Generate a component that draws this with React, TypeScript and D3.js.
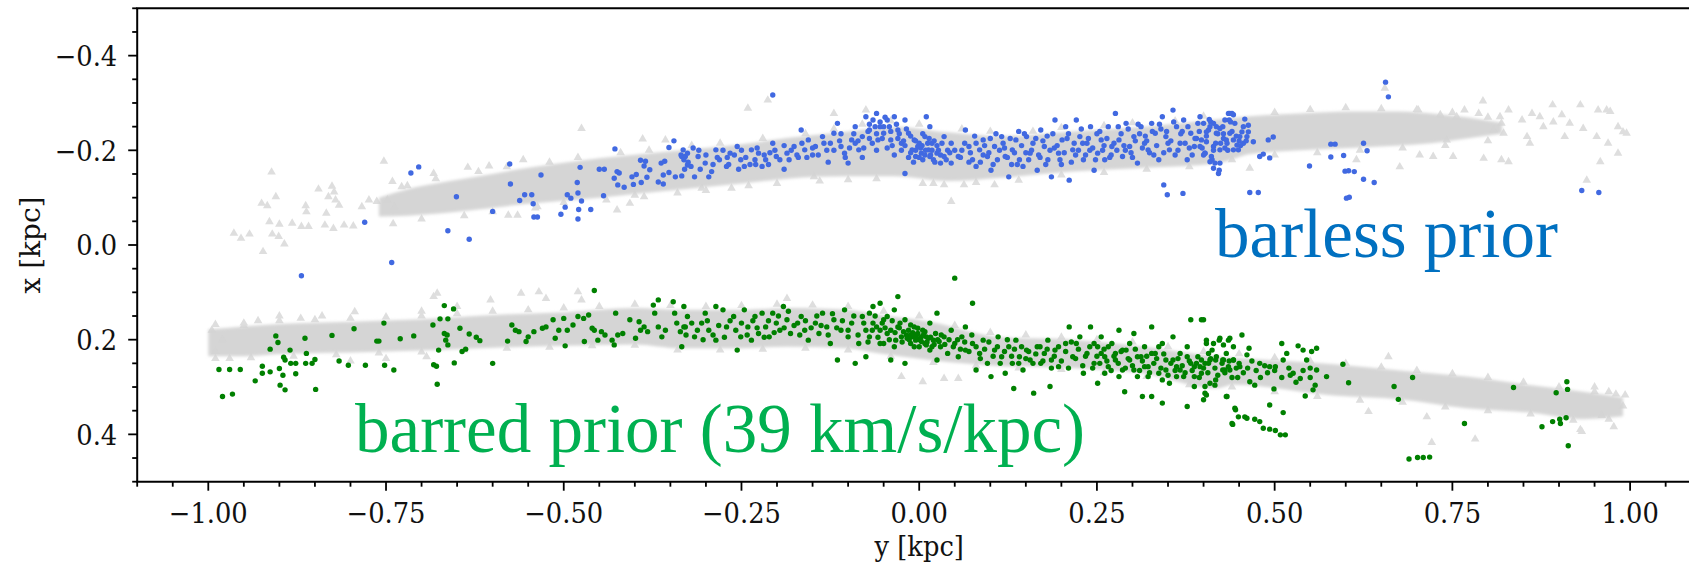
import React from "react";
import * as d3 from "d3";

// ---------- data (y [kpc] horizontal, x [kpc] vertical) ----------
const yTicksMajor = [-1.0, -0.75, -0.5, -0.25, 0.0, 0.25, 0.5, 0.75, 1.0];
const xTicksMajor = [-0.4, -0.2, 0.0, 0.2, 0.4];

// dense gray model bands: sample y, upper edge x, lower edge x
const bandTopY = [-0.76, -0.72, -0.68, -0.64, -0.55, -0.45, -0.35, -0.25, -0.186, -0.1, -0.035, 0.04, 0.115, 0.216, 0.317, 0.418, 0.466, 0.536, 0.606, 0.676, 0.72, 0.77, 0.82];
const bandTopLo = [-0.1, -0.118, -0.13, -0.14, -0.163, -0.183, -0.198, -0.213, -0.226, -0.24, -0.25, -0.238, -0.23, -0.24, -0.25, -0.265, -0.272, -0.278, -0.282, -0.282, -0.278, -0.27, -0.258];
const bandTopHi = [-0.06, -0.062, -0.066, -0.072, -0.087, -0.1, -0.115, -0.13, -0.14, -0.145, -0.145, -0.135, -0.142, -0.155, -0.163, -0.172, -0.192, -0.2, -0.205, -0.21, -0.215, -0.225, -0.235];

const bandBotY = [-1.0, -0.95, -0.9, -0.8, -0.7, -0.6, -0.5, -0.4, -0.337, -0.25, -0.186, -0.1, -0.06, 0.015, 0.116, 0.216, 0.317, 0.417, 0.442, 0.583, 0.676, 0.77, 0.864, 0.934, 0.99];
const bandBotLo = [0.178, 0.172, 0.167, 0.162, 0.157, 0.148, 0.142, 0.133, 0.137, 0.137, 0.133, 0.137, 0.147, 0.162, 0.195, 0.2, 0.215, 0.235, 0.238, 0.252, 0.265, 0.278, 0.297, 0.31, 0.322];
const bandBotHi = [0.235, 0.235, 0.23, 0.227, 0.223, 0.217, 0.213, 0.21, 0.218, 0.218, 0.215, 0.218, 0.228, 0.243, 0.256, 0.26, 0.272, 0.303, 0.295, 0.318, 0.326, 0.345, 0.355, 0.368, 0.362];

// scattered gray model triangles (outliers and band edges)
const modelTriangles: [number, number][] = [
  [-0.964, -0.025], [-0.954, -0.014], [-0.942, -0.023], [-0.911, -0.154], [-0.923, 0.014], [-0.905, -0.102],
  [-0.925, -0.088], [-0.917, -0.083], [-0.914, -0.049], [-0.9, -0.044], [-0.91, -0.023], [-0.901, -0.018],
  [-0.893, -0.002], [-0.882, -0.046], [-0.869, -0.039], [-0.859, -0.039], [-0.863, -0.083], [-0.862, -0.07],
  [-0.845, -0.118], [-0.834, -0.067], [-0.826, -0.124], [-0.823, -0.112], [-0.831, -0.102], [-0.821, -0.095],
  [-0.816, -0.084], [-0.836, -0.042], [-0.824, -0.035], [-0.809, -0.042], [-0.796, -0.04], [-0.753, -0.177],
  [-0.784, -0.081], [-0.774, -0.095], [-0.763, -0.092], [-0.748, -0.095], [-0.738, -0.081], [-0.728, -0.123],
  [-0.741, -0.134], [-0.635, -0.164], [-0.605, -0.167], [-0.557, -0.18], [-0.475, -0.246], [-0.389, -0.224],
  [-0.357, -0.222], [-0.683, -0.151], [-0.537, -0.081], [-0.425, -0.074], [-0.387, -0.102], [-0.407, -0.088],
  [-0.578, -0.063], [-0.565, -0.063], [-0.241, -0.289], [-0.213, -0.306], [0.045, -0.092], [0.005, -0.13],
  [0.035, -0.127], [0.063, -0.127], [0.106, -0.127], [-0.306, -0.12], [-0.264, -0.12], [-0.148, -0.144],
  [-0.12, -0.278], [-0.075, -0.285],
  [0.793, -0.304], [0.787, -0.278], [0.767, -0.285], [0.756, -0.271], [0.751, -0.187], [0.794, -0.183],
  [0.819, -0.18], [0.829, -0.176], [0.819, -0.257], [0.829, -0.285], [0.817, -0.271], [0.808, -0.243],
  [0.822, -0.236], [0.848, -0.264], [0.862, -0.278], [0.859, -0.215], [0.855, -0.229], [0.873, -0.271],
  [0.878, -0.25], [0.891, -0.296], [0.904, -0.275], [0.892, -0.26], [0.908, -0.229], [0.915, -0.257],
  [0.93, -0.296], [0.934, -0.246], [0.955, -0.285], [0.972, -0.282], [0.953, -0.229], [0.969, -0.215],
  [0.983, -0.194], [0.983, -0.25], [0.99, -0.239], [0.995, -0.236], [0.958, -0.176], [0.939, -0.137],
  [0.967, -0.285], [0.742, -0.222], [0.733, -0.275], [0.702, -0.285], [0.704, -0.19], [0.723, -0.187],
  [0.676, -0.165], [0.615, -0.18], [0.465, -0.162], [0.655, -0.331],
  [0.66, 0.236], [0.632, 0.352], [0.714, 0.363], [0.721, 0.417], [0.782, 0.41], [0.932, 0.394],
  [0.993, 0.317], [0.977, 0.384], [-0.025, 0.278], [0.005, 0.289], [0.035, 0.282], [0.055, 0.282],
  [-0.186, 0.113], [-0.683, 0.109], [-0.678, 0.102], [-0.603, 0.116], [-0.56, 0.102], [-0.535, 0.099],
  [-0.525, 0.113], [-0.48, 0.099], [-0.475, 0.116], [-0.794, 0.141], [-0.693, 0.236],
  [-0.995, 0.18], [-0.99, 0.225], [-0.98, 0.2], [-0.97, 0.24], [-0.95, 0.17], [-0.93, 0.16], [-0.9, 0.15],
  [-0.87, 0.155], [-0.84, 0.15], [-0.8, 0.245], [-0.75, 0.24], [-0.7, 0.14], [-0.65, 0.13], [0.93, 0.39],
  [0.96, 0.36], [0.99, 0.34], [0.97, 0.31], [0.95, 0.3],
  [-0.72, -0.125], [-0.68, -0.14], [-0.62, -0.155], [-0.58, -0.165], [-0.52, -0.175], [-0.48, -0.185],
  [-0.42, -0.195], [-0.38, -0.2], [-0.32, -0.21], [-0.28, -0.215], [-0.22, -0.225], [-0.16, -0.235],
  [-0.12, -0.245], [-0.08, -0.255], [-0.04, -0.262], [0.0, -0.255], [0.06, -0.245], [0.1, -0.24],
  [0.16, -0.24], [0.2, -0.248], [0.26, -0.252], [0.3, -0.258], [0.36, -0.262], [0.4, -0.272], [0.5, -0.28],
  [0.55, -0.286], [0.6, -0.29], [0.65, -0.288], [0.7, -0.286], [0.75, -0.28], [0.8, -0.27],
  [-0.74, -0.045], [-0.7, -0.055], [-0.64, -0.062], [-0.6, -0.07], [-0.54, -0.078], [-0.5, -0.09],
  [-0.44, -0.095], [-0.4, -0.105], [-0.34, -0.11], [-0.3, -0.115], [-0.24, -0.125], [-0.2, -0.13],
  [-0.14, -0.135], [-0.1, -0.138], [-0.06, -0.14], [0.02, -0.13], [0.08, -0.132], [0.14, -0.137],
  [0.2, -0.148], [0.26, -0.153], [0.32, -0.16], [0.38, -0.165], [0.44, -0.18], [0.5, -0.19], [0.56, -0.195],
  [0.62, -0.2], [0.68, -0.205], [0.74, -0.21], [0.8, -0.22],
  [-0.99, 0.168], [-0.95, 0.165], [-0.9, 0.16], [-0.85, 0.158], [-0.8, 0.155], [-0.75, 0.152], [-0.7, 0.15],
  [-0.65, 0.145], [-0.6, 0.14], [-0.55, 0.137], [-0.5, 0.133], [-0.45, 0.13], [-0.4, 0.125], [-0.35, 0.128],
  [-0.3, 0.13], [-0.25, 0.128], [-0.2, 0.125], [-0.15, 0.127], [-0.1, 0.13], [-0.05, 0.14], [0.0, 0.15],
  [0.05, 0.17], [0.1, 0.185], [0.15, 0.19], [0.2, 0.195], [0.25, 0.2], [0.3, 0.205], [0.35, 0.215],
  [0.4, 0.225], [0.45, 0.23], [0.5, 0.238], [0.55, 0.245], [0.6, 0.25], [0.65, 0.258], [0.7, 0.265],
  [0.75, 0.272], [0.8, 0.28], [0.85, 0.29], [0.9, 0.3], [0.95, 0.31], [0.98, 0.315],
  [-0.99, 0.24], [-0.94, 0.238], [-0.88, 0.235], [-0.82, 0.232], [-0.76, 0.228], [-0.7, 0.226],
  [-0.64, 0.222], [-0.58, 0.218], [-0.52, 0.216], [-0.46, 0.213], [-0.4, 0.212], [-0.34, 0.222],
  [-0.28, 0.222], [-0.22, 0.22], [-0.16, 0.218], [-0.1, 0.222], [-0.04, 0.235], [0.02, 0.248],
  [0.08, 0.255], [0.14, 0.26], [0.2, 0.263], [0.26, 0.27], [0.32, 0.278], [0.38, 0.295], [0.44, 0.3],
  [0.5, 0.31], [0.56, 0.32], [0.62, 0.328], [0.68, 0.332], [0.74, 0.342], [0.8, 0.35], [0.86, 0.357],
  [0.92, 0.37], [0.97, 0.368],
];

// barless prior stars (blue)
const barlessStars: [number, number][] = [
  [-0.869, 0.065], [-0.742, 0.037], [-0.78, -0.048], [-0.715, -0.152], [-0.704, -0.165], [-0.663, -0.03],
  [-0.633, -0.012], [-0.651, -0.102], [-0.6, -0.071], [-0.576, -0.171], [-0.575, -0.129], [-0.562, -0.094],
  [-0.555, -0.106], [-0.545, -0.106], [-0.543, -0.087], [-0.542, -0.059], [-0.537, -0.059], [-0.532, -0.148],
  [-0.504, -0.065], [-0.498, -0.08], [-0.495, -0.106], [-0.49, -0.099], [-0.481, -0.132], [-0.48, -0.11],
  [-0.479, -0.075], [-0.48, -0.055], [-0.477, -0.164], [-0.475, -0.093], [-0.462, -0.075], [-0.45, -0.16],
  [-0.443, -0.16], [-0.444, -0.104], [-0.428, -0.203], [-0.429, -0.141], [-0.425, -0.155], [-0.422, -0.152],
  [-0.424, -0.127], [-0.415, -0.122], [-0.404, -0.144], [-0.398, -0.149], [-0.402, -0.128], [-0.391, -0.132],
  [-0.392, -0.179], [-0.385, -0.177], [-0.387, -0.167], [-0.379, -0.159], [-0.383, -0.143], [-0.367, -0.133],
  [-0.36, -0.129], [-0.363, -0.173], [-0.358, -0.177], [-0.36, -0.148], [-0.352, -0.153], [-0.352, -0.206],
  [-0.345, -0.22], [-0.343, -0.144], [-0.334, -0.146], [-0.332, -0.201], [-0.334, -0.187], [-0.329, -0.187],
  [-0.326, -0.169],
  [-0.331, -0.18], [-0.321, -0.166], [-0.316, -0.144], [-0.326, -0.194], [-0.311, -0.187], [-0.301, -0.173],
  [-0.296, -0.144], [-0.286, -0.201], [-0.281, -0.18], [-0.271, -0.166], [-0.266, -0.194], [-0.256, -0.208],
  [-0.251, -0.18], [-0.246, -0.166], [-0.236, -0.201], [-0.231, -0.18], [-0.226, -0.194], [-0.221, -0.166],
  [-0.216, -0.18], [-0.206, -0.215], [-0.201, -0.187], [-0.186, -0.194], [-0.183, -0.18], [-0.176, -0.208],
  [-0.166, -0.243], [-0.161, -0.201], [-0.156, -0.222], [-0.146, -0.208], [-0.136, -0.229], [-0.125, -0.215],
  [-0.12, -0.236], [-0.115, -0.257], [-0.11, -0.208], [-0.1, -0.173], [-0.105, -0.194], [-0.095, -0.222],
  [-0.09, -0.25], [-0.085, -0.201], [-0.08, -0.229], [-0.075, -0.271], [-0.07, -0.243], [-0.065, -0.264],
  [-0.06, -0.278], [-0.058, -0.222], [-0.055, -0.25], [-0.05, -0.236], [-0.045, -0.264], [-0.04, -0.222],
  [-0.035, -0.271], [-0.03, -0.243], [-0.025, -0.215], [-0.02, -0.264], [-0.02, -0.151], [-0.015, -0.236],
  [-0.01, -0.201], [-0.007, -0.222], [-0.005, -0.187], [-0.002, -0.208], [0.0, -0.215], [0.003, -0.194],
  [0.005, -0.18], [0.008, -0.229], [0.01, -0.271], [0.013, -0.201], [0.015, -0.187], [0.015, -0.25],
  [0.018, -0.215], [0.02, -0.18], [0.025, -0.194], [0.03, -0.173], [0.035, -0.229], [0.035, -0.187],
  [0.045, -0.173], [0.055, -0.187], [0.065, -0.243], [0.07, -0.208], [0.075, -0.18], [0.08, -0.166],
  [0.085, -0.201], [0.09, -0.222], [0.096, -0.187], [0.101, -0.158], [0.106, -0.208], [0.116, -0.229],
  [0.121, -0.187], [0.126, -0.144], [0.131, -0.201], [0.136, -0.222], [0.141, -0.18], [0.146, -0.166],
  [0.151, -0.229], [0.156, -0.194], [0.166, -0.158], [0.171, -0.243], [0.176, -0.208], [0.181, -0.18],
  [0.186, -0.144], [0.191, -0.264], [0.196, -0.194], [0.201, -0.222], [0.206, -0.25], [0.211, -0.137],
  [0.216, -0.201], [0.221, -0.264], [0.226, -0.229], [0.231, -0.18], [0.236, -0.215], [0.241, -0.25],
  [0.246, -0.158], [0.251, -0.194], [0.256, -0.222], [0.261, -0.18], [0.266, -0.25], [0.271, -0.208],
  [0.276, -0.278], [0.281, -0.222], [0.286, -0.187], [0.291, -0.257], [0.296, -0.208], [0.302, -0.229],
  [0.307, -0.173], [0.312, -0.25], [0.317, -0.215], [0.322, -0.201], [0.327, -0.257], [0.332, -0.236],
  [0.337, -0.18], [0.342, -0.271], [0.347, -0.229], [0.344, -0.127], [0.349, -0.106], [0.352, -0.201],
  [0.357, -0.285], [0.362, -0.25], [0.367, -0.215], [0.371, -0.109], [0.372, -0.264], [0.377, -0.18],
  [0.382, -0.236], [0.387, -0.208], [0.392, -0.257], [0.397, -0.222], [0.402, -0.194], [0.407, -0.243],
  [0.412, -0.18], [0.417, -0.215], [0.422, -0.158], [0.427, -0.25], [0.432, -0.222], [0.437, -0.278],
  [0.442, -0.201], [-0.206, -0.317],
  [-0.02, -0.21], [-0.012, -0.195], [-0.005, -0.22], [0.002, -0.205], [0.008, -0.19], [-0.015, -0.185],
  [0.0, -0.185], [0.012, -0.215], [-0.025, -0.2], [-0.008, -0.175], [0.018, -0.2], [0.005, -0.235],
  [-0.03, -0.225], [-0.04, -0.24], [-0.05, -0.25], [-0.06, -0.235], [-0.07, -0.255], [-0.045, -0.205],
  [-0.055, -0.26], [0.025, -0.21], [0.03, -0.19], [0.04, -0.2], [0.045, -0.215], [0.022, -0.175],
  [-0.035, -0.19],
  [0.06, -0.2], [0.07, -0.175], [0.08, -0.215], [0.09, -0.19], [0.1, -0.225], [0.11, -0.18], [0.12, -0.205],
  [0.13, -0.17], [0.14, -0.24], [0.15, -0.195], [0.16, -0.215], [0.17, -0.185], [0.18, -0.23], [0.19, -0.205],
  [0.2, -0.17], [0.21, -0.235], [0.22, -0.19], [0.23, -0.215], [0.24, -0.2], [0.25, -0.235], [0.26, -0.21],
  [0.27, -0.19], [0.28, -0.25], [0.29, -0.2], [0.3, -0.185], [0.31, -0.235], [0.32, -0.22], [0.33, -0.19],
  [0.34, -0.245], [0.35, -0.215], [0.36, -0.19], [0.37, -0.24], [0.38, -0.205], [0.39, -0.225], [0.4, -0.19],
  [0.41, -0.26], [0.42, -0.235], [0.43, -0.205], [0.44, -0.24], [0.45, -0.22],
  [-0.33, -0.16], [-0.31, -0.2], [-0.29, -0.17], [-0.27, -0.185], [-0.25, -0.2], [-0.23, -0.17],
  [-0.21, -0.195], [-0.19, -0.21], [-0.17, -0.185], [-0.15, -0.19], [-0.13, -0.2], [-0.11, -0.235],
  [-0.09, -0.215], [-0.08, -0.185], [-0.07, -0.225], [-0.06, -0.2],
  [0.656, -0.344], [0.66, -0.313], [0.932, -0.115], [0.956, -0.111], [0.465, -0.111], [0.477, -0.111],
  [0.601, -0.099], [0.605, -0.101], [0.599, -0.156], [0.604, -0.157], [0.612, -0.155], [0.625, -0.139],
  [0.64, -0.132], [0.549, -0.167], [0.579, -0.213], [0.585, -0.213], [0.579, -0.186], [0.597, -0.189],
  [0.625, -0.215], [0.63, -0.199], [0.479, -0.187], [0.484, -0.192], [0.493, -0.184], [0.491, -0.222],
  [0.498, -0.228], [0.47, -0.218], [0.463, -0.253], [0.463, -0.239], [0.458, -0.266], [0.435, -0.278],
  [0.442, -0.275], [0.436, -0.264], [0.421, -0.151], [0.414, -0.162], [0.416, -0.173], [0.423, -0.173],
  [0.409, -0.176],
  [0.395, -0.271], [0.4, -0.257], [0.404, -0.239], [0.409, -0.25], [0.414, -0.257], [0.418, -0.236],
  [0.423, -0.246], [0.428, -0.225], [0.433, -0.215], [0.437, -0.236], [0.442, -0.222], [0.447, -0.211],
  [0.451, -0.229], [0.456, -0.215], [0.404, -0.218], [0.414, -0.208], [0.423, -0.201], [0.395, -0.208],
  [0.402, -0.194], [0.411, -0.187], [0.44, -0.278], [0.43, -0.264], [0.444, -0.257], [0.454, -0.239],
  [0.461, -0.229], [0.449, -0.201],
  [-0.335, -0.19], [-0.325, -0.175], [-0.318, -0.205], [-0.308, -0.16], [-0.3, -0.19], [-0.292, -0.155],
  [-0.284, -0.185], [-0.276, -0.2], [-0.268, -0.17], [-0.26, -0.19], [-0.254, -0.16], [-0.244, -0.185],
  [-0.238, -0.17], [-0.228, -0.205], [-0.218, -0.19], [-0.212, -0.17], [-0.203, -0.2], [-0.196, -0.18],
  [-0.19, -0.16], [-0.18, -0.2], [-0.172, -0.19], [-0.165, -0.215], [-0.158, -0.185], [-0.15, -0.205],
  [-0.142, -0.19], [-0.134, -0.215], [-0.128, -0.175], [-0.12, -0.2], [-0.112, -0.22], [-0.104, -0.185],
  [-0.098, -0.205], [-0.092, -0.235], [-0.086, -0.22], [-0.078, -0.205], [-0.072, -0.24], [-0.066, -0.215],
  [-0.062, -0.25], [-0.052, -0.225], [-0.048, -0.27], [-0.042, -0.25], [-0.038, -0.21], [-0.032, -0.255],
  [-0.028, -0.235], [-0.022, -0.22], [-0.018, -0.245], [-0.012, -0.23], [-0.005, -0.2], [0.004, -0.21],
  [0.009, -0.2], [0.014, -0.225], [0.016, -0.19], [0.021, -0.22], [0.027, -0.2], [0.032, -0.215],
  [0.038, -0.18], [0.043, -0.195], [0.05, -0.2], [0.058, -0.185], [0.064, -0.215], [0.072, -0.195],
  [0.078, -0.23], [0.086, -0.175], [0.092, -0.21], [0.098, -0.195], [0.104, -0.17], [0.108, -0.235],
  [0.113, -0.2], [0.118, -0.215], [0.124, -0.185], [0.128, -0.225], [0.134, -0.195], [0.138, -0.17],
  [0.144, -0.21], [0.148, -0.235], [0.154, -0.18], [0.158, -0.2], [0.164, -0.225], [0.168, -0.19],
  [0.174, -0.22], [0.178, -0.17], [0.184, -0.2], [0.188, -0.235], [0.194, -0.21], [0.198, -0.18],
  [0.204, -0.195], [0.208, -0.225], [0.214, -0.175], [0.218, -0.215], [0.224, -0.2], [0.228, -0.245],
  [0.234, -0.19], [0.238, -0.225], [0.244, -0.205], [0.248, -0.18], [0.254, -0.24], [0.258, -0.2],
  [0.264, -0.225], [0.268, -0.185], [0.274, -0.215], [0.278, -0.2], [0.284, -0.235], [0.288, -0.21],
  [0.294, -0.245], [0.298, -0.195], [0.304, -0.22], [0.308, -0.255], [0.314, -0.205], [0.318, -0.23],
  [0.324, -0.195], [0.328, -0.24], [0.334, -0.21], [0.338, -0.255], [0.344, -0.195], [0.348, -0.24],
  [0.354, -0.22], [0.358, -0.26], [0.364, -0.2], [0.368, -0.235], [0.374, -0.215], [0.378, -0.25],
  [0.384, -0.19], [0.388, -0.225], [0.394, -0.24], [0.398, -0.205], [0.404, -0.23], [0.408, -0.265],
  [0.414, -0.2], [0.418, -0.25], [0.424, -0.215], [0.428, -0.235], [0.434, -0.2], [0.438, -0.26],
  [0.446, -0.23], [0.452, -0.21], [0.456, -0.25], [0.46, -0.22],
];

// barred prior stars (green)
const barredStars: [number, number][] = [
  [-0.985, 0.263], [-0.97, 0.263], [-0.955, 0.263], [-0.98, 0.32], [-0.966, 0.315], [-0.934, 0.287],
  [-0.924, 0.256], [-0.924, 0.271], [-0.913, 0.268], [-0.913, 0.22], [-0.905, 0.192], [-0.902, 0.206],
  [-0.9, 0.261], [-0.895, 0.275], [-0.894, 0.237], [-0.892, 0.243], [-0.885, 0.222], [-0.884, 0.25],
  [-0.877, 0.25], [-0.877, 0.272], [-0.899, 0.296], [-0.892, 0.306], [-0.864, 0.197], [-0.862, 0.229],
  [-0.863, 0.25], [-0.854, 0.25], [-0.85, 0.242], [-0.849, 0.305], [-0.826, 0.191], [-0.816, 0.245],
  [-0.803, 0.254], [-0.795, 0.177], [-0.779, 0.254], [-0.763, 0.203], [-0.76, 0.203], [-0.753, 0.165],
  [-0.752, 0.254], [-0.739, 0.264], [-0.73, 0.198], [-0.711, 0.192], [-0.684, 0.169], [-0.674, 0.156],
  [-0.668, 0.128], [-0.663, 0.156], [-0.655, 0.135], [-0.683, 0.253], [-0.679, 0.256], [-0.676, 0.222],
  [-0.678, 0.294], [-0.668, 0.187], [-0.664, 0.19], [-0.666, 0.201], [-0.663, 0.211], [-0.646, 0.176],
  [-0.654, 0.249], [-0.643, 0.225], [-0.638, 0.22], [-0.633, 0.188], [-0.623, 0.195], [-0.618, 0.202],
  [-0.6, 0.25], [-0.579, 0.203], [-0.573, 0.169], [-0.568, 0.18], [-0.563, 0.183], [-0.553, 0.204],
  [-0.55, 0.194], [-0.542, 0.183], [-0.53, 0.176], [-0.525, 0.173], [-0.515, 0.158], [-0.512, 0.197],
  [-0.507, 0.18], [-0.5, 0.155], [-0.498, 0.213], [-0.495, 0.18], [-0.487, 0.169], [-0.48, 0.151],
  [-0.472, 0.155], [-0.465, 0.148], [-0.471, 0.204], [-0.457, 0.096], [-0.46, 0.176], [-0.457, 0.18],
  [-0.452, 0.201], [-0.447, 0.183], [-0.442, 0.19], [-0.427, 0.144], [-0.432, 0.201], [-0.429, 0.211],
  [-0.424, 0.19], [-0.417, 0.187], [-0.407, 0.158], [-0.399, 0.197], [-0.394, 0.162], [-0.392, 0.18],
  [-0.387, 0.173], [-0.382, 0.183], [-0.374, 0.127], [-0.372, 0.144], [-0.367, 0.116], [-0.367, 0.173],
  [-0.362, 0.194], [-0.357, 0.18], [-0.346, 0.12], [-0.344, 0.144], [-0.341, 0.165], [-0.336, 0.183],
  [-0.334, 0.215], [-0.331, 0.13], [-0.329, 0.173],
  [-0.331, 0.173], [-0.326, 0.151], [-0.316, 0.194], [-0.306, 0.165], [-0.301, 0.144], [-0.296, 0.18],
  [-0.286, 0.13], [-0.286, 0.201], [-0.276, 0.137], [-0.271, 0.173], [-0.261, 0.151], [-0.256, 0.222],
  [-0.251, 0.194], [-0.246, 0.137], [-0.241, 0.173], [-0.236, 0.201], [-0.231, 0.151], [-0.226, 0.187],
  [-0.221, 0.144], [-0.216, 0.173], [-0.211, 0.194], [-0.206, 0.144], [-0.201, 0.165], [-0.196, 0.18],
  [-0.191, 0.13], [-0.186, 0.158], [-0.181, 0.187], [-0.171, 0.165], [-0.166, 0.151], [-0.161, 0.18],
  [-0.156, 0.201], [-0.146, 0.165], [-0.141, 0.187], [-0.136, 0.144], [-0.13, 0.173], [-0.125, 0.208],
  [-0.12, 0.158], [-0.115, 0.243], [-0.11, 0.18], [-0.105, 0.137], [-0.1, 0.194], [-0.095, 0.165],
  [-0.09, 0.25], [-0.085, 0.208], [-0.08, 0.151], [-0.075, 0.18], [-0.075, 0.236], [-0.07, 0.194],
  [-0.065, 0.13], [-0.06, 0.173], [-0.055, 0.123], [-0.055, 0.208], [-0.05, 0.158], [-0.045, 0.187],
  [-0.04, 0.243], [-0.035, 0.137], [-0.035, 0.215], [-0.03, 0.109], [-0.03, 0.173], [-0.025, 0.194],
  [-0.02, 0.158], [-0.02, 0.25], [-0.015, 0.18], [-0.012, 0.208], [-0.01, 0.194], [-0.007, 0.173],
  [-0.005, 0.201], [-0.002, 0.187], [0.0, 0.215], [0.003, 0.194], [0.005, 0.18], [0.008, 0.208],
  [0.01, 0.194], [0.015, 0.165], [0.015, 0.222], [0.02, 0.201], [0.025, 0.144], [0.025, 0.243],
  [0.03, 0.215], [0.035, 0.194], [0.04, 0.229], [0.045, 0.18], [0.05, 0.07], [0.05, 0.208],
  [0.055, 0.236], [0.06, 0.194], [0.065, 0.173], [0.065, 0.222], [0.075, 0.123], [0.075, 0.208],
  [0.08, 0.264], [0.085, 0.229], [0.09, 0.201], [0.096, 0.25], [0.101, 0.278], [0.106, 0.222],
  [0.111, 0.194], [0.116, 0.236], [0.121, 0.271], [0.126, 0.215], [0.131, 0.25], [0.133, 0.303],
  [0.136, 0.201], [0.141, 0.236], [0.146, 0.264], [0.151, 0.222], [0.156, 0.243], [0.161, 0.313],
  [0.166, 0.215], [0.171, 0.25], [0.176, 0.229], [0.181, 0.201], [0.184, 0.299], [0.186, 0.243],
  [0.191, 0.222], [0.196, 0.257], [0.206, 0.208], [0.211, 0.173], [0.216, 0.236], [0.221, 0.208],
  [0.226, 0.194], [0.231, 0.271], [0.236, 0.229], [0.241, 0.173], [0.246, 0.25], [0.251, 0.215],
  [0.251, 0.292], [0.256, 0.194], [0.261, 0.236], [0.266, 0.257], [0.271, 0.208], [0.276, 0.229],
  [0.281, 0.18], [0.286, 0.264], [0.289, 0.31], [0.291, 0.222], [0.296, 0.243], [0.302, 0.187],
  [0.307, 0.278], [0.312, 0.236], [0.314, 0.32], [0.317, 0.215], [0.322, 0.257], [0.327, 0.173],
  [0.327, 0.32], [0.332, 0.229], [0.337, 0.271], [0.342, 0.334], [0.342, 0.208], [0.347, 0.243],
  [0.352, 0.292], [0.357, 0.194], [0.362, 0.257], [0.367, 0.229], [0.372, 0.278], [0.377, 0.341],
  [0.377, 0.215], [0.382, 0.158], [0.382, 0.25], [0.387, 0.299], [0.392, 0.236], [0.397, 0.158],
  [0.397, 0.271], [0.402, 0.313], [0.404, 0.208], [0.407, 0.25], [0.412, 0.222], [0.417, 0.285],
  [0.422, 0.201], [0.427, 0.243], [0.432, 0.32], [0.437, 0.264], [0.442, 0.215], [0.445, 0.348],
  [0.44, 0.377],
  [-0.027, 0.165], [-0.022, 0.183], [-0.017, 0.197], [-0.012, 0.169], [-0.007, 0.215], [-0.002, 0.176],
  [0.003, 0.204], [0.008, 0.183], [0.013, 0.197], [0.018, 0.215], [0.023, 0.187], [0.028, 0.204],
  [-0.012, 0.19], [-0.005, 0.19], [0.01, 0.211], [-0.033, 0.201], [-0.04, 0.18], [-0.045, 0.151],
  [-0.05, 0.208], [-0.055, 0.18], [-0.065, 0.165], [-0.07, 0.144],
  [0.246, 0.208], [0.256, 0.229], [0.266, 0.215], [0.276, 0.243], [0.286, 0.222], [0.296, 0.208],
  [0.307, 0.236], [0.317, 0.257], [0.327, 0.229], [0.337, 0.215], [0.347, 0.264], [0.357, 0.243],
  [0.367, 0.264], [0.377, 0.236], [0.387, 0.257], [0.261, 0.271], [0.281, 0.278], [0.302, 0.264],
  [0.322, 0.278], [0.342, 0.285], [0.362, 0.278], [0.387, 0.278], [0.397, 0.243], [0.407, 0.229],
  [0.417, 0.243], [0.427, 0.264], [0.432, 0.229], [0.442, 0.243],
  [0.4, 0.158], [0.404, 0.201], [0.414, 0.208], [0.423, 0.197], [0.428, 0.211], [0.435, 0.201],
  [0.437, 0.197], [0.454, 0.19], [0.395, 0.257], [0.402, 0.25], [0.409, 0.243], [0.418, 0.236],
  [0.428, 0.243], [0.435, 0.257], [0.442, 0.243], [0.43, 0.264], [0.409, 0.292], [0.416, 0.296],
  [0.402, 0.299], [0.404, 0.317], [0.4, 0.327], [0.433, 0.32], [0.448, 0.28], [0.464, 0.218],
  [0.461, 0.232], [0.451, 0.257], [0.465, 0.289], [0.472, 0.296], [0.479, 0.25], [0.493, 0.257],
  [0.501, 0.257], [0.51, 0.208], [0.512, 0.243], [0.517, 0.229], [0.522, 0.275], [0.526, 0.271],
  [0.536, 0.282], [0.533, 0.213], [0.54, 0.222], [0.545, 0.243], [0.55, 0.26], [0.552, 0.225],
  [0.559, 0.218], [0.559, 0.264], [0.557, 0.296], [0.554, 0.306], [0.573, 0.278], [0.543, 0.319],
  [0.493, 0.338], [0.512, 0.354], [0.499, 0.304], [0.444, 0.345], [0.449, 0.363], [0.458, 0.363],
  [0.461, 0.366], [0.472, 0.368], [0.479, 0.373], [0.484, 0.387], [0.493, 0.389], [0.501, 0.392],
  [0.508, 0.401], [0.515, 0.401], [0.441, 0.379], [0.596, 0.252], [0.604, 0.291], [0.668, 0.299],
  [0.674, 0.326], [0.694, 0.28], [0.689, 0.452], [0.701, 0.449], [0.709, 0.449], [0.718, 0.448],
  [0.767, 0.377], [0.836, 0.301], [0.876, 0.384], [0.891, 0.373], [0.901, 0.368], [0.902, 0.377],
  [0.91, 0.365], [0.896, 0.312], [0.911, 0.289], [0.912, 0.305], [0.913, 0.424],
  [-0.328, 0.19], [-0.32, 0.165], [-0.312, 0.18], [-0.304, 0.2], [-0.298, 0.16], [-0.29, 0.19],
  [-0.282, 0.17], [-0.274, 0.195], [-0.266, 0.16], [-0.258, 0.18], [-0.25, 0.165], [-0.242, 0.19],
  [-0.234, 0.16], [-0.228, 0.175], [-0.218, 0.195], [-0.212, 0.16], [-0.204, 0.185], [-0.198, 0.15],
  [-0.19, 0.175], [-0.184, 0.14], [-0.176, 0.17], [-0.168, 0.19], [-0.16, 0.16], [-0.152, 0.175],
  [-0.144, 0.15], [-0.138, 0.17], [-0.128, 0.19], [-0.122, 0.145], [-0.116, 0.175], [-0.108, 0.16],
  [-0.1, 0.18], [-0.092, 0.15], [-0.086, 0.19], [-0.078, 0.165], [-0.072, 0.205], [-0.066, 0.18],
  [-0.062, 0.15], [-0.058, 0.195], [-0.052, 0.165], [-0.048, 0.175], [-0.042, 0.2], [-0.038, 0.16],
  [-0.034, 0.185], [-0.028, 0.175], [-0.024, 0.205], [-0.018, 0.19], [-0.014, 0.2], [-0.009, 0.185],
  [-0.004, 0.195], [0.001, 0.2], [0.006, 0.19], [0.011, 0.205], [0.016, 0.195], [0.021, 0.21],
  [0.026, 0.2], [0.031, 0.19], [0.036, 0.21], [0.042, 0.2], [0.048, 0.215], [0.054, 0.2], [0.058, 0.22],
  [0.064, 0.205], [0.07, 0.225], [0.074, 0.19], [0.08, 0.215], [0.086, 0.24], [0.092, 0.22],
  [0.098, 0.205], [0.104, 0.235], [0.11, 0.215], [0.114, 0.25], [0.12, 0.225], [0.124, 0.2],
  [0.13, 0.235], [0.134, 0.22], [0.14, 0.25], [0.144, 0.215], [0.15, 0.24], [0.154, 0.225], [0.16, 0.25],
  [0.164, 0.23], [0.17, 0.215], [0.174, 0.245], [0.18, 0.22], [0.186, 0.26], [0.19, 0.235], [0.196, 0.215],
  [0.2, 0.245], [0.206, 0.225], [0.21, 0.26], [0.214, 0.205], [0.22, 0.24], [0.224, 0.22], [0.23, 0.255],
  [0.234, 0.235], [0.24, 0.215], [0.244, 0.26], [0.25, 0.235], [0.254, 0.25], [0.26, 0.22], [0.264, 0.245],
  [0.27, 0.265], [0.274, 0.235], [0.28, 0.25], [0.284, 0.225], [0.29, 0.26], [0.294, 0.24], [0.3, 0.255],
  [0.304, 0.22], [0.31, 0.265], [0.314, 0.245], [0.32, 0.235], [0.324, 0.27], [0.33, 0.25], [0.334, 0.24],
  [0.34, 0.26], [0.344, 0.23], [0.35, 0.275], [0.354, 0.25], [0.36, 0.265], [0.364, 0.24], [0.37, 0.255],
  [0.374, 0.27], [0.38, 0.245], [0.384, 0.265], [0.39, 0.25], [0.394, 0.28], [0.4, 0.26], [0.406, 0.27],
  [0.41, 0.24], [0.416, 0.26], [0.42, 0.275], [0.426, 0.25], [0.43, 0.27], [0.436, 0.245], [0.44, 0.28],
  [0.446, 0.26], [0.45, 0.25], [0.456, 0.27], [0.462, 0.26], [0.468, 0.245], [0.474, 0.265], [0.48, 0.28],
  [0.486, 0.255], [0.49, 0.27], [0.5, 0.265], [0.51, 0.28], [0.52, 0.26], [0.53, 0.29], [0.54, 0.265],
  [0.55, 0.28],
];

// ---------- layout ----------
const W = 1689;
const H = 566;
const X0 = 137.2;
const X1 = 1701.2;
const Y0 = 8.3;
const Y1 = 481.7;

const yScale = d3.scaleLinear().domain([-1.1, 1.1]).range([X0, X1]); // horizontal "y [kpc]"
const xScale = d3.scaleLinear().domain([-0.5, 0.5]).range([Y0, Y1]); // vertical "x [kpc]"

const FONT = "'DejaVu Serif', serif";
const minus = (s: string) => s.replace("-", "\u2212");

function bandPath(ys: number[], lo: number[], hi: number[]) {
  const rows = ys.map((v, i) => ({ y: v, lo: lo[i], hi: hi[i] }));
  return d3
    .area<{ y: number; lo: number; hi: number }>()
    .x((d) => yScale(d.y))
    .y0((d) => xScale(d.lo))
    .y1((d) => xScale(d.hi))
    .curve(d3.curveMonotoneX)(rows) as string;
}

export default function App() {
  const tri = d3.symbol().type(d3.symbolTriangle).size(32)() as string;
  const minorX = d3.range(-22, 23).map((i) => i * 0.05).filter((v) => Math.abs(Math.round(v * 4) - v * 4) > 1e-6);
  const minorY = d3.range(-10, 11).map((i) => i * 0.05).filter((v) => Math.abs(Math.round(v * 5) - v * 5) > 1e-6);

  return (
    <svg width={W} height={H} style={{ position: "absolute", left: 0, top: 0, background: "#fff" }}>
      <defs>
        <filter id="soft" x="-5%" y="-50%" width="110%" height="200%">
          <feGaussianBlur stdDeviation="1.6" />
        </filter>
        <clipPath id="plot">
          <rect x={X0} y={Y0} width={X1 - X0} height={Y1 - Y0} />
        </clipPath>
      </defs>

      <g clipPath="url(#plot)">
        <g filter="url(#soft)">
          <path d={bandPath(bandTopY, bandTopLo, bandTopHi)} fill="#d5d5d5" />
          <path d={bandPath(bandBotY, bandBotLo, bandBotHi)} fill="#d5d5d5" />
        </g>
        <g fill="#d3d3d3" opacity={0.75}>
          {modelTriangles.map((d, i) => (
            <path key={i} d={tri} transform={`translate(${yScale(d[0])},${xScale(d[1])})`} />
          ))}
        </g>
        <g fill="#4169e1">
          {barlessStars.map((d, i) => (
            <circle key={i} cx={yScale(d[0])} cy={xScale(d[1])} r={2.7} />
          ))}
        </g>
        <g fill="#008000">
          {barredStars.map((d, i) => (
            <circle key={i} cx={yScale(d[0])} cy={xScale(d[1])} r={2.7} />
          ))}
        </g>
      </g>

      {/* spines */}
      <g stroke="#000" strokeWidth={2} fill="none">
        <line x1={X0} y1={Y0} x2={X0} y2={Y1} />
        <line x1={X0 - 1} y1={Y1} x2={W} y2={Y1} />
        <line x1={X0 - 1} y1={Y0} x2={W} y2={Y0} />
      </g>

      {/* ticks */}
      <g stroke="#000" strokeWidth={1.8}>
        {yTicksMajor.map((v) => (
          <line key={"M" + v} x1={yScale(v)} x2={yScale(v)} y1={Y1} y2={Y1 + 9} />
        ))}
        {minorX.map((v) => (
          <line key={"m" + v} x1={yScale(v)} x2={yScale(v)} y1={Y1} y2={Y1 + 5} />
        ))}
        {xTicksMajor.map((v) => (
          <line key={"YM" + v} y1={xScale(v)} y2={xScale(v)} x1={X0} x2={X0 - 9} />
        ))}
        {minorY.map((v) => (
          <line key={"Ym" + v} y1={xScale(v)} y2={xScale(v)} x1={X0} x2={X0 - 5} />
        ))}
      </g>

      <g fontFamily={FONT} fontSize={28} fill="#111">
        {yTicksMajor.map((v) => (
          <text key={"L" + v} textAnchor="middle" transform={`translate(${yScale(v)},${523}) scale(0.92,1)`}>
            {minus(d3.format(".2f")(v))}
          </text>
        ))}
        {xTicksMajor.map((v) => (
          <text key={"YL" + v} textAnchor="end" transform={`translate(${X0 - 20},${xScale(v) + 10.3}) scale(0.92,1)`}>
            {minus(d3.format(".1f")(v === 0 ? 0 : v))}
          </text>
        ))}
        <text textAnchor="middle" transform={`translate(${yScale(0)},${556}) scale(0.92,1)`}>
          y [kpc]
        </text>
        <text textAnchor="middle" transform={`translate(${40},${xScale(0)}) rotate(-90)`}>
          x [kpc]
        </text>
      </g>

      <g fontFamily="'Liberation Serif', 'Times New Roman', serif" fontSize={69}>
        <text x={1215} y={257} fill="#0070c0">barless prior</text>
        <text x={355} y={451.5} fill="#00b050">barred prior (39 km/s/kpc)</text>
      </g>
    </svg>
  );
}
